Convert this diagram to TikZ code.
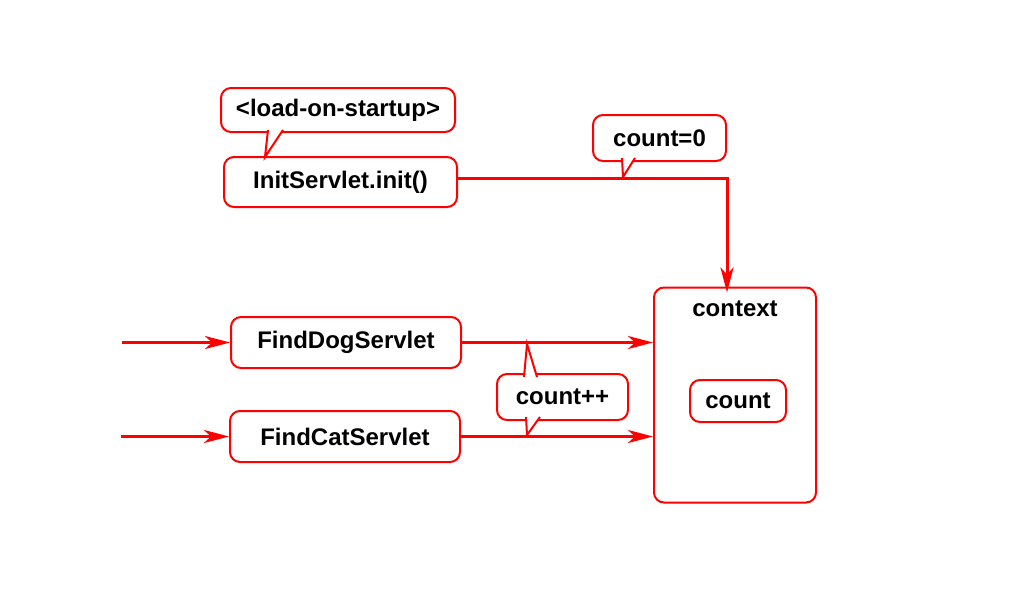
\documentclass[tikz,border=0pt]{standalone}
\usepackage{fontspec}
\setmainfont{Liberation Sans}
\usetikzlibrary{arrows.meta}

\begin{document}
\begin{tikzpicture}[x=1pt, y=-1pt,
  box/.style={draw=red, line width=2pt, rounded corners=10pt, fill=white,
    inner sep=0pt, font=\fontsize{24}{28}\selectfont\bfseries},
  link/.style={draw=red, line width=3pt,
    -{Stealth[length=25pt, width=13pt, inset=7pt]}},
  tail/.style={draw=red, line width=2pt, fill=white, line join=miter}]
  \useasboundingbox (0,0) rectangle (1024,597);

  % Servlets
  \node[box, minimum width=233pt, minimum height=50pt] (init) at (340.5,182) {InitServlet.init()};
  \node[box, minimum width=230pt, minimum height=51pt] (dog) at (346,342.5) {FindDogServlet};
  \node[box, minimum width=230pt, minimum height=51pt] (cat) at (345,436.5) {FindCatServlet};

  % context
  \node[box, minimum width=162pt, minimum height=215pt,
    label={[font=\fontsize{24}{28}\selectfont\bfseries, anchor=center, yshift=-22pt]north:context}]
    (ctx) at (735,395) {};
  \node[box, minimum width=96pt, minimum height=42pt] (cnt) at (738,401) {count};

  % callouts
  \node[box, minimum width=234pt, minimum height=44pt] (los) at (338,110) {<load-on-startup>};
  \filldraw[tail] (268,130) -- (265,157) -- (283,130);
  \node[box, minimum width=133pt, minimum height=46pt] (zero) at (659.5,138) {count=0};

  % connectors
  \coordinate (turn) at (727,178);
  \coordinate (dogin) at (122,342.5);
  \coordinate (catin) at (121,436.5);
  \draw[link] (init.east |- turn) -- (turn) -- ([yshift=-6pt]turn |- ctx.north);
  \filldraw[tail] (622,158) -- (623,177) -- (635,158);
  \draw[link] (dogin) -- (dog.west);
  \draw[link] (catin) -- (cat.west);
  \draw[link] (dog.east) -- (dog.east -| ctx.west);
  \draw[link] (cat.east) -- (cat.east -| ctx.west);

  \node[box, minimum width=131pt, minimum height=46pt] (inc) at (562.5,397) {count++};
  \filldraw[tail] (524,377) -- (527,344) -- (537,377);
  \filldraw[tail] (526,417) -- (527,435) -- (540,417);
\end{tikzpicture}
\end{document}
